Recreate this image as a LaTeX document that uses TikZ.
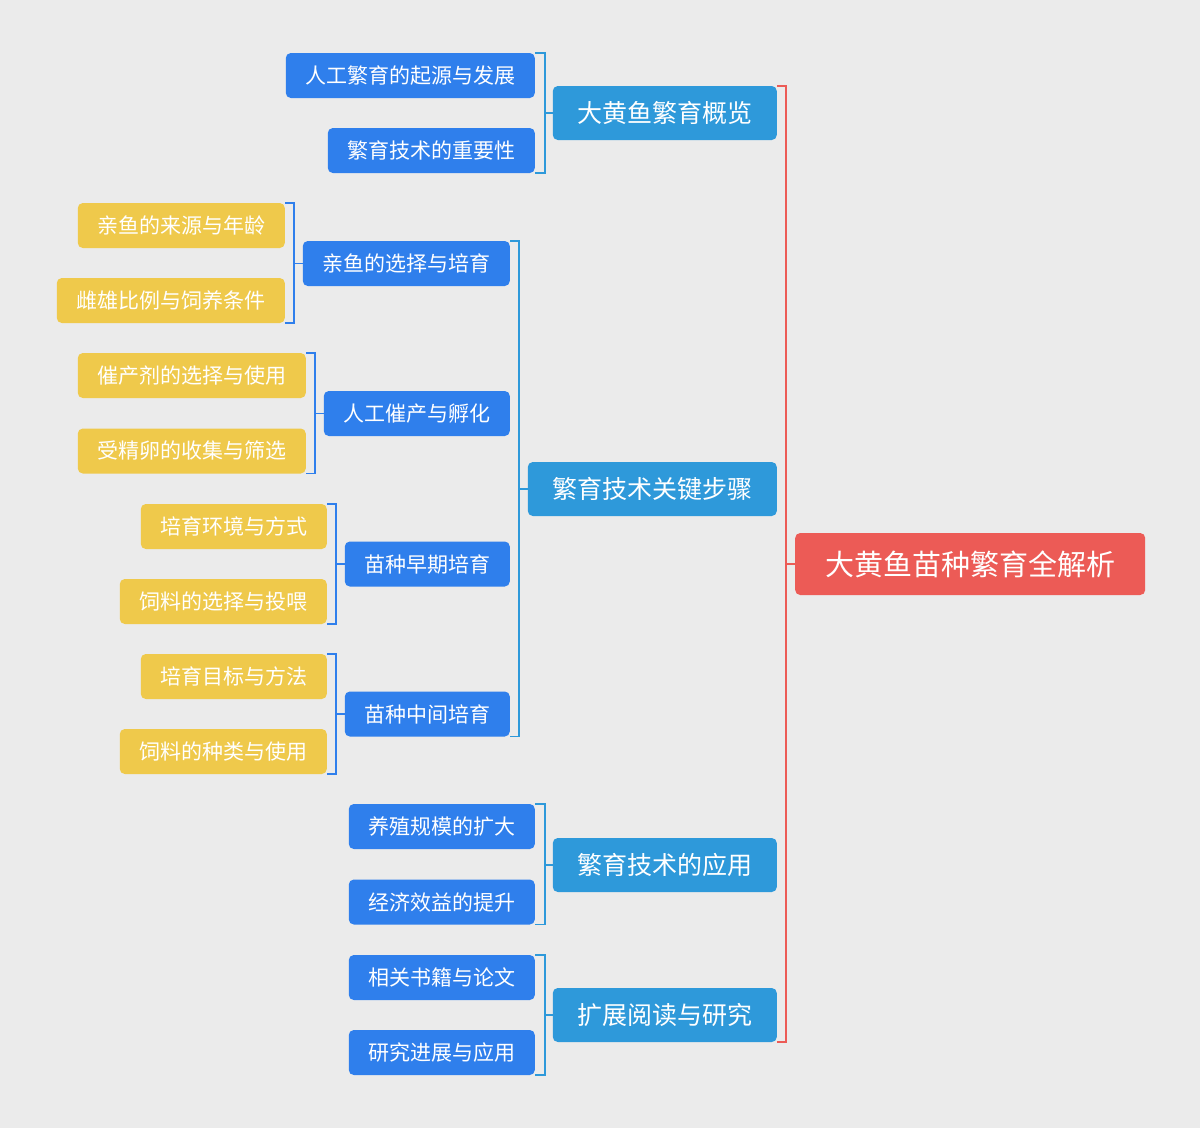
\documentclass[tikz,border=0pt]{standalone}
\usepackage{fontspec}
\newfontfamily\cjk{Noto Sans CJK SC}
\definecolor{mmbg}{HTML}{EBEBEB}
\definecolor{mmred}{HTML}{EC5B56}
\definecolor{mmsky}{HTML}{2E99DA}
\definecolor{mmblue}{HTML}{2F7FEC}
\definecolor{mmgold}{HTML}{EFC94B}

\begin{document}
\begin{tikzpicture}[x=1pt,y=-1pt,
  rootbox/.style={rectangle,rounded corners=5pt,fill=mmred,text=white,font=\cjk\fontsize{29}{34}\selectfont,inner xsep=30pt,inner ysep=0pt,minimum height=62pt,anchor=west},
  topic/.style={rectangle,rounded corners=5pt,fill=mmsky,text=white,font=\cjk\fontsize{25}{30}\selectfont,inner xsep=24.5pt,inner ysep=0pt,minimum height=54pt,anchor=east},
  sub/.style={rectangle,rounded corners=5pt,fill=mmblue,text=white,font=\cjk\fontsize{21}{25}\selectfont,inner xsep=19.5pt,inner ysep=0pt,minimum height=45pt,anchor=east},
  leaf/.style={sub,fill=mmgold},
  brk/.style={line width=1.5pt}]
\useasboundingbox[fill=mmbg] (0,0) rectangle (1200,1128);
% root
\node[rootbox] (root) at (795,564) {大黄鱼苗种繁育全解析};
% topics
\node[topic] (ov)  at (777,113)  {大黄鱼繁育概览};
\node[topic] (key) at (777,489)  {繁育技术关键步骤};
\node[topic] (app) at (777,865)  {繁育技术的应用};
\node[topic] (ext) at (777,1015) {扩展阅读与研究};
% subtopics
\node[sub] (ov1) at (535,75.5)  {人工繁育的起源与发展};
\node[sub] (ov2) at (535,150.5) {繁育技术的重要性};
\node[sub] (key1) at (510,263.5) {亲鱼的选择与培育};
\node[sub] (key2) at (510,413.5) {人工催产与孵化};
\node[sub] (key3) at (510,564)   {苗种早期培育};
\node[sub] (key4) at (510,714)   {苗种中间培育};
\node[sub] (app1) at (535,826.5) {养殖规模的扩大};
\node[sub] (app2) at (535,902)   {经济效益的提升};
\node[sub] (ext1) at (535,977.5) {相关书籍与论文};
\node[sub] (ext2) at (535,1052.5) {研究进展与应用};
% leaves
\node[leaf] (k1a) at (285,225.5) {亲鱼的来源与年龄};
\node[leaf] (k1b) at (285,300.5) {雌雄比例与饲养条件};
\node[leaf] (k2a) at (306,375.5) {催产剂的选择与使用};
\node[leaf] (k2b) at (306,451)   {受精卵的收集与筛选};
\node[leaf] (k3a) at (327,526.5) {培育环境与方式};
\node[leaf] (k3b) at (327,601.5) {饲料的选择与投喂};
\node[leaf] (k4a) at (327,676.5) {培育目标与方法};
\node[leaf] (k4b) at (327,751.5) {饲料的种类与使用};
% brackets
\draw[brk,mmred] (ov.north east) -- ++(9,0) |- (ext.south east);
\draw[brk,mmred] (root.west) -- ++(-9,0);
\draw[brk,mmsky] (ov1.north east) -- ++(10,0) |- (ov2.south east);
\draw[brk,mmsky] (ov.west) -- ++(-8,0);
\draw[brk,mmsky] (key1.north east) -- ++(9,0) |- (key4.south east);
\draw[brk,mmsky] (key.west) -- ++(-9,0);
\draw[brk,mmsky] (app1.north east) -- ++(10,0) |- (app2.south east);
\draw[brk,mmsky] (app.west) -- ++(-8,0);
\draw[brk,mmsky] (ext1.north east) -- ++(10,0) |- (ext2.south east);
\draw[brk,mmsky] (ext.west) -- ++(-8,0);
\draw[brk,mmblue] (k1a.north east) -- ++(9,0) |- (k1b.south east);
\draw[brk,mmblue] (key1.west) -- ++(-8,0);
\draw[brk,mmblue] (k2a.north east) -- ++(9,0) |- (k2b.south east);
\draw[brk,mmblue] (key2.west) -- ++(-8,0);
\draw[brk,mmblue] (k3a.north east) -- ++(9,0) |- (k3b.south east);
\draw[brk,mmblue] (key3.west) -- ++(-8,0);
\draw[brk,mmblue] (k4a.north east) -- ++(9,0) |- (k4b.south east);
\draw[brk,mmblue] (key4.west) -- ++(-8,0);
\end{tikzpicture}
\end{document}
